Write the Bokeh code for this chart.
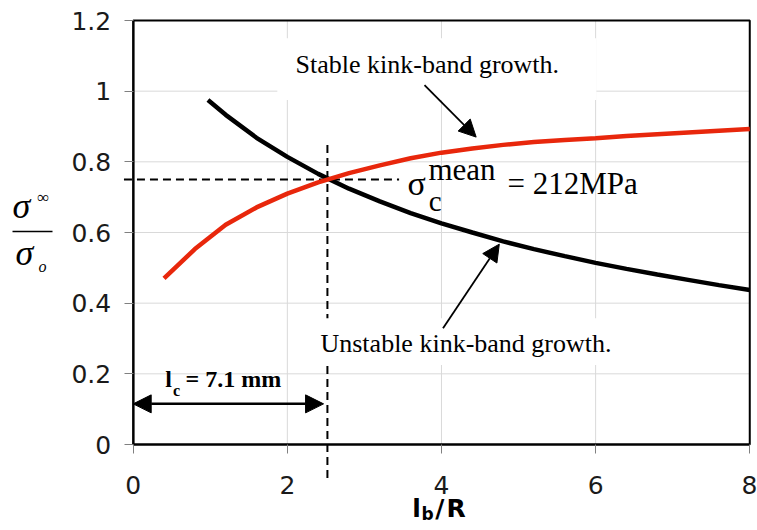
from bokeh.plotting import figure
from bokeh.models import Label, Arrow, NormalHead, FixedTicker, Range1d
from bokeh.embed import file_html
from bokeh.resources import INLINE

# ---- data ----
unstable_x = [0.97, 1.2, 1.6, 2.0, 2.4, 2.8, 3.2, 3.6, 4.0, 4.4, 4.8, 5.2, 5.6, 6.0, 6.4, 6.8, 7.2, 7.6, 8.0]
unstable_y = [0.975, 0.933, 0.868, 0.814, 0.766, 0.724, 0.688, 0.655, 0.626, 0.600, 0.575, 0.553, 0.533, 0.514, 0.497, 0.481, 0.466, 0.451, 0.437]

stable_x = [0.4, 0.8, 1.2, 1.6, 2.0, 2.4, 2.8, 3.2, 3.6, 4.0, 4.4, 4.8, 5.2, 5.6, 6.0, 6.4, 6.8, 7.2, 7.6, 8.0]
stable_y = [0.470, 0.553, 0.622, 0.671, 0.710, 0.742, 0.768, 0.790, 0.810, 0.826, 0.838, 0.848, 0.856, 0.862, 0.867, 0.873, 0.878, 0.883, 0.888, 0.893]

x_ticks = [0, 2, 4, 6, 8]
y_ticks = [0, 0.2, 0.4, 0.6, 0.8, 1.0, 1.2]
y_tick_labels = ["0", "0.2", "0.4", "0.6", "0.8", "1", "1.2"]

x_min, x_max = 0, 8
y_min, y_max = 0, 1.2
lc_value = 2.52        # critical kink-band length lb/R
sigma_ratio = 0.75     # intersection ratio

W, H = 757, 530
X0, PX_X = 132.7, 77.07     # pixel of x=0, pixels per unit
Y0, PX_Y = 444.0, 353.33    # pixel of y=0, pixels per unit

p = figure(width=W, height=H,
           x_range=Range1d(-X0 / PX_X, (W - X0) / PX_X),
           y_range=Range1d(-(H - Y0) / PX_Y, Y0 / PX_Y),
           output_backend="svg", toolbar_location=None, min_border=0,
           background_fill_color="white", border_fill_color="white")
p.outline_line_color = None
p.xgrid.visible = False
p.ygrid.visible = False

p.xaxis.ticker = FixedTicker(ticks=x_ticks)
p.yaxis.ticker = FixedTicker(ticks=y_ticks)
p.yaxis.major_label_overrides = {t: l for t, l in zip(y_ticks, y_tick_labels)}
p.xaxis.fixed_location = y_min
p.yaxis.fixed_location = x_min
p.xaxis.bounds = (x_min, x_max)
p.yaxis.bounds = (y_min, y_max)
for ax in (p.xaxis[0], p.yaxis[0]):
    ax.axis_line_color = "black"
    ax.axis_line_width = 2
    ax.major_tick_in = 0
    ax.major_tick_out = 9
    ax.major_tick_line_color = "#808080"
    ax.minor_tick_line_color = None
    ax.major_label_text_font = "DejaVu Sans"
    ax.major_label_text_font_size = "25px"
    ax.major_label_text_color = "#1a1a1a"
p.xaxis.major_label_standoff = 22
p.yaxis.major_label_standoff = 13

# ---- grid lines (from the tick values) ----
p.segment(x0=x_ticks, x1=x_ticks, y0=[y_min] * len(x_ticks), y1=[y_max] * len(x_ticks),
          line_color="#d9d9d9", line_width=1)
p.segment(x0=[x_min] * len(y_ticks), x1=[x_max] * len(y_ticks), y0=y_ticks, y1=y_ticks,
          line_color="#d9d9d9", line_width=1)

# ---- dashed guide lines ----
p.segment(x0=[lc_value, -0.12], x1=[lc_value, 3.45], y0=[-0.095, sigma_ratio], y1=[0.862, sigma_ratio],
          line_dash="8 5", line_width=2, line_color="black")

# ---- white text boxes ----
p.quad(left=[1.87, 2.35], right=[6.01, 6.4], bottom=[0.975, 0.225], top=[1.15, 0.357],
       fill_color="white", line_color=None)

# ---- frame ----
p.quad(left=[x_min], right=[x_max], bottom=[y_min], top=[y_max],
       fill_color=None, line_color="black", line_width=2)

# ---- curves ----
p.line(unstable_x, unstable_y, line_color="black", line_width=4.5)
p.line(stable_x, stable_y, line_color="#e8270c", line_width=4.5)

# ---- arrows ----
p.add_layout(Arrow(start=NormalHead(size=18, fill_color="black", line_color="black"),
                   end=NormalHead(size=18, fill_color="black", line_color="black"),
                   x_start=0.0, y_start=0.115, x_end=2.47, y_end=0.115, line_width=2.5))
p.add_layout(Arrow(end=NormalHead(size=17, fill_color="black", line_color="black"),
                   x_start=3.78, y_start=1.017, x_end=4.45, y_end=0.870, line_width=1.8))
p.add_layout(Arrow(end=NormalHead(size=17, fill_color="black", line_color="black"),
                   x_start=4.02, y_start=0.329, x_end=4.75, y_end=0.567, line_width=1.8))

serif = "Liberation Serif"

def lab(x, y, text, size, font=serif, style="normal", align="left"):
    p.add_layout(Label(x=x, y=y, text=text, text_font=font, text_font_size=size,
                       text_font_style=style, text_align=align, text_baseline="alphabetic",
                       text_color="black"))

lab(2.106, 1.075, "Stable kink-band growth.", "26px")
lab(2.43, 0.287, "Unstable kink-band growth.", "26px")

# sigma_c^mean = 212MPa
lab(3.56, 0.740, "σ", "34px")
lab(3.83, 0.779, "mean", "31px")
lab(3.835, 0.688, "c", "29px")
lab(4.857, 0.740, "= 212MPa", "31px")

# l_c = 7.1 mm
lab(0.416, 0.184, "l", "24px", style="bold")
lab(0.515, 0.154, "c", "16px", style="bold")
lab(0.68, 0.184, "=  7.1  mm", "24px", style="bold")

# x-axis title l_b/R
lab(3.62, -0.180, "l", "25px", font="DejaVu Sans", style="bold")
lab(3.74, -0.197, "b", "17px", font="DejaVu Sans", style="bold")
lab(3.92, -0.180, "/", "25px", font="DejaVu Sans", style="bold")
lab(4.065, -0.180, "R", "25px", font="DejaVu Sans", style="bold")

# y-axis title sigma_inf / sigma_o
lab(-1.566, 0.674, "σ", "36px", style="italic")
lab(-1.245, 0.700, "∞", "17px")
p.segment(x0=[-1.566], x1=[-1.047], y0=[0.603], y1=[0.603], line_width=1.5, line_color="black")
lab(-1.527, 0.541, "σ", "36px", style="italic")
lab(-1.23, 0.504, "o", "16px", style="italic")

open("out.html", "w").write(file_html(p, INLINE))
